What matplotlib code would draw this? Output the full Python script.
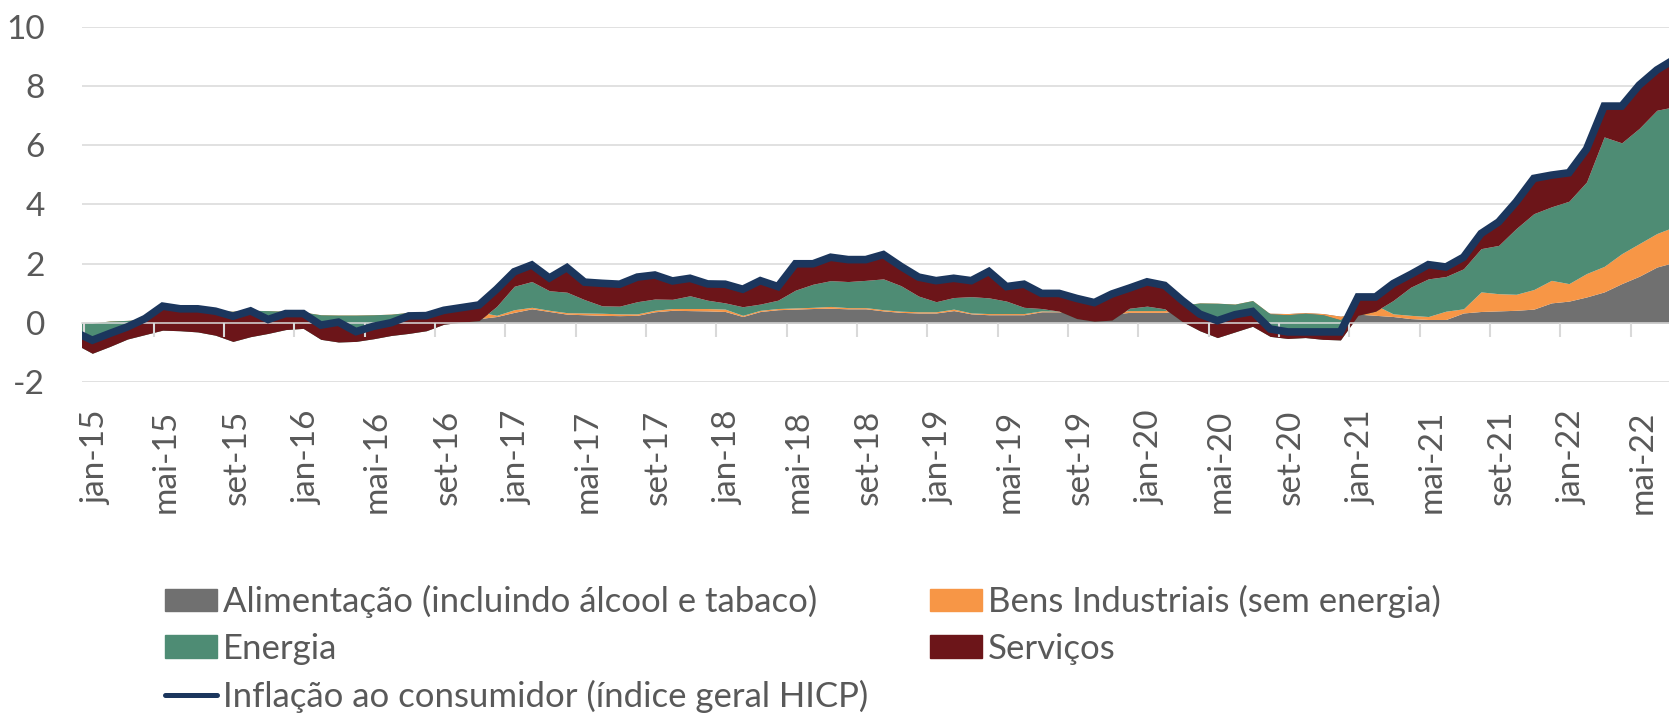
import numpy as np
import matplotlib
matplotlib.use('Agg')
import matplotlib.pyplot as plt
from matplotlib.patches import Patch
from matplotlib.lines import Line2D
from matplotlib.transforms import ScaledTranslation

plt.rcParams['font.family'] = ['Lato', 'DejaVu Sans']
plt.rcParams['axes.unicode_minus'] = False

# month index, 0 = jan-15 (series runs dez-14 .. jul-22)
months = np.arange(-1, 91)

# contributions (p.p.)
food = [0.00, 0.00, 0.04, 0.05, 0.08, 0.10, 0.10, 0.10, 0.12, 0.12, 0.15, 0.15, 0.15,
        0.12, 0.10, 0.10, 0.10, 0.10, 0.10, 0.12, 0.12, 0.12, 0.15, 0.15, 0.22,
        0.36, 0.48, 0.39, 0.30, 0.28, 0.26, 0.25, 0.26, 0.38, 0.43, 0.42, 0.41,
        0.39, 0.22, 0.39, 0.45, 0.47, 0.49, 0.50, 0.48, 0.48, 0.41, 0.36, 0.34,
        0.34, 0.42, 0.31, 0.28, 0.28, 0.28, 0.38, 0.38, 0.30, 0.25, 0.30, 0.36,
        0.36, 0.36, 0.45, 0.55, 0.55, 0.50, 0.55, 0.33, 0.32, 0.35, 0.32, 0.23,
        0.30, 0.26, 0.22, 0.15, 0.12, 0.12, 0.34, 0.39, 0.41, 0.43, 0.47, 0.68,
        0.74, 0.88, 1.05, 1.33, 1.58, 1.89, 2.05]
industrial = [0.00, 0.00, 0.03, 0.04, 0.06, 0.10, 0.20, 0.25, 0.28, 0.28, 0.28, 0.27, 0.25,
              0.25, 0.18, 0.17, 0.17, 0.18, 0.20, 0.24, 0.24, 0.26, 0.23, 0.23, 0.04,
              0.09, 0.05, 0.04, 0.05, 0.06, 0.07, 0.06, 0.05, 0.05, 0.06, 0.07, 0.08,
              0.08, 0.04, 0.04, 0.04, 0.04, 0.04, 0.06, 0.04, 0.04, 0.04, 0.04, 0.04,
              0.04, 0.05, 0.03, 0.04, 0.04, 0.04, 0.03, 0.02, 0.08, 0.10, 0.08, 0.06,
              0.06, 0.06, 0.15, 0.13, 0.12, 0.14, 0.21, -0.02, -0.04, -0.02, -0.04, -0.12,
              0.40, 0.34, 0.09, 0.11, 0.10, 0.28, 0.14, 0.66, 0.58, 0.54, 0.66, 0.76,
              0.59, 0.79, 0.86, 1.01, 1.10, 1.13, 1.20]
energy = [-0.70, -1.02, -0.86, -0.63, -0.53, -0.44, -0.56, -0.65, -0.81, -1.02, -0.89, -0.77, -0.62,
          -0.55, -0.83, -0.91, -0.89, -0.81, -0.72, -0.71, -0.62, -0.42, -0.35, -0.30, 0.30,
          0.79, 0.87, 0.66, 0.69, 0.45, 0.25, 0.26, 0.41, 0.38, 0.31, 0.43, 0.28,
          0.21, 0.29, 0.21, 0.28, 0.60, 0.78, 0.87, 0.88, 0.92, 1.04, 0.86, 0.53,
          0.34, 0.39, 0.55, 0.53, 0.42, 0.21, 0.08, 0.00, -0.23, -0.29, -0.28, 0.08,
          0.15, 0.06, -0.55, -0.94, -1.16, -0.94, -0.87, -0.76, -0.80, -0.82, -0.83, -0.68,
          -0.44, -0.20, 0.45, 0.95, 1.27, 1.17, 1.35, 1.46, 1.63, 2.22, 2.56, 2.48,
          2.78, 3.09, 4.37, 3.74, 3.89, 4.16, 4.05]
services = [0.40, 0.44, 0.44, 0.41, 0.54, 0.81, 0.74, 0.78, 0.81, 0.85, 0.87, 0.47, 0.54,
            0.50, 0.48, 0.67, 0.33, 0.42, 0.43, 0.59, 0.51, 0.47, 0.49, 0.53, 0.58,
            0.49, 0.56, 0.43, 0.83, 0.59, 0.76, 0.74, 0.83, 0.81, 0.62, 0.59, 0.55,
            0.63, 0.59, 0.79, 0.46, 0.89, 0.69, 0.79, 0.74, 0.70, 0.82, 0.65, 0.64,
            0.71, 0.65, 0.54, 0.89, 0.49, 0.78, 0.51, 0.60, 0.68, 0.63, 0.88, 0.68,
            0.82, 0.79, 0.71, 0.56, 0.57, 0.58, 0.50, 0.25, 0.22, 0.19, 0.25, 0.27,
            0.62, 0.48, 0.57, 0.43, 0.48, 0.32, 0.39, 0.51, 0.79, 0.90, 1.19, 1.07,
            0.96, 1.11, 1.04, 1.24, 1.46, 1.36, 1.60]
hicp = [-0.30, -0.58, -0.35, -0.13, 0.15, 0.57, 0.48, 0.48, 0.40, 0.23, 0.41, 0.12, 0.32,
        0.32, -0.07, 0.03, -0.29, -0.11, 0.01, 0.24, 0.25, 0.43, 0.52, 0.61, 1.14,
        1.73, 1.96, 1.52, 1.87, 1.38, 1.34, 1.31, 1.55, 1.62, 1.42, 1.51, 1.32,
        1.31, 1.14, 1.43, 1.23, 2.00, 2.00, 2.22, 2.14, 2.14, 2.31, 1.91, 1.55,
        1.43, 1.51, 1.43, 1.74, 1.23, 1.31, 1.00, 1.00, 0.83, 0.69, 0.98, 1.18,
        1.39, 1.27, 0.76, 0.30, 0.08, 0.28, 0.39, -0.20, -0.30, -0.30, -0.30, -0.30,
        0.88, 0.88, 1.33, 1.64, 1.97, 1.89, 2.22, 3.02, 3.41, 4.09, 4.88, 4.99,
        5.07, 5.87, 7.32, 7.32, 8.03, 8.54, 8.90]

tick_labels = ['jan-15', 'mai-15', 'set-15', 'jan-16', 'mai-16', 'set-16', 'jan-17',
               'mai-17', 'set-17', 'jan-18', 'mai-18', 'set-18', 'jan-19', 'mai-19',
               'set-19', 'jan-20', 'mai-20', 'set-20', 'jan-21', 'mai-21', 'set-21',
               'jan-22', 'mai-22']

series_names = ['Alimentação (incluindo álcool e tabaco)', 'Bens Industriais (sem energia)',
                'Energia', 'Serviços']
line_name = 'Inflação ao consumidor (índice geral HICP)'
colors = ['#707070', '#F79646', '#4E8C74', '#6C1519']
line_color = '#1B365D'
text_color = '#595959'
grid_color = '#D9D9D9'

fig = plt.figure(figsize=(16.69, 7.15), dpi=100)
ax = fig.add_axes([0.0494, 0.4653, 0.9506, 0.4974])

# stacked the way a spreadsheet stacks it: each layer sits on the running sum
layers = np.vstack([food, industrial, energy, services])
tops = np.cumsum(layers, axis=0)
bases = np.vstack([np.zeros(len(months)), tops[:-1]])
for base, top, color in zip(bases, tops, colors):
    ax.fill_between(months, base, top, color=color, lw=0, zorder=1)

ax.plot(months, hicp, color=line_color, lw=5.5, solid_joinstyle='miter', zorder=3)

ax.set_xlim(-0.56, 89.69)
ax.set_ylim(-2, 10)
ax.set_yticks(np.arange(-2, 11, 2))
ax.yaxis.grid(True, color=grid_color, lw=1.1)
ax.set_axisbelow(True)
for side in ['left', 'right', 'top', 'bottom']:
    ax.spines[side].set_visible(False)

ax.set_xticks(np.arange(0, 89, 4), tick_labels, rotation=90)
ax.tick_params(axis='x', length=0, pad=20, labelsize=24, labelcolor=text_color)
ax.tick_params(axis='y', length=0, pad=27, labelsize=24, labelcolor=text_color)
shift = ScaledTranslation(2.5 / 72, 0, fig.dpi_scale_trans)
for lab in ax.get_xticklabels():
    lab.set_transform(lab.get_transform() + shift)

# category axis line at zero with tick marks between months
edges = np.arange(-0.5, 90, 4)
zero_axis = ax.secondary_xaxis(0, transform=ax.transData)
zero_axis.set_xticks(edges, [''] * len(edges))
zero_axis.tick_params(direction='out', length=10, width=1.5, color=grid_color)
zero_axis.spines['bottom'].set_color(grid_color)
zero_axis.spines['bottom'].set_linewidth(1.1)
zero_axis.set_zorder(2)

handles = [Patch(color=colors[0]), Patch(color=colors[2]),
           Line2D([], [], color=line_color, lw=3.6, solid_capstyle='round'),
           Patch(color=colors[1]), Patch(color=colors[3])]
labels = [series_names[0], series_names[2], line_name, series_names[1], series_names[3]]
fig.legend(handles, labels, ncol=2, loc='upper left',
           bbox_to_anchor=(165 / 1669, 1 - 585 / 715), frameon=False,
           fontsize=25, labelcolor=text_color, handlelength=1.5, handleheight=0.63,
           handletextpad=0.17, labelspacing=0.43, columnspacing=1.78,
           borderpad=0, borderaxespad=0)

fig.savefig('out.png', dpi=100)
